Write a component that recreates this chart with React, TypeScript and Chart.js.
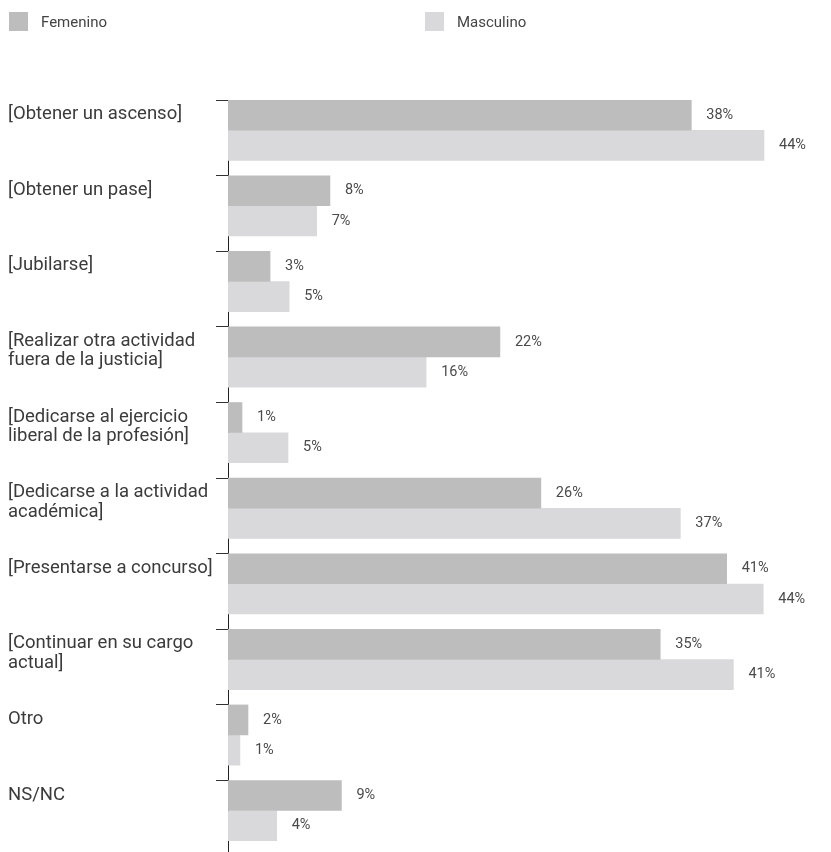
import React, { useEffect, useRef } from "react";
import { Chart, registerables } from "chart.js";

Chart.register(...registerables);

const CATEGORIES: (string | string[])[] = [
  "[Obtener un ascenso]",
  "[Obtener un pase]",
  "[Jubilarse]",
  ["[Realizar otra actividad", "fuera de la justicia]"],
  ["[Dedicarse al ejercicio", "liberal de la profesión]"],
  ["[Dedicarse a la actividad", "académica]"],
  "[Presentarse a concurso]",
  ["[Continuar en su cargo", "actual]"],
  "Otro",
  "NS/NC",
];

const SERIES = ["Femenino", "Masculino"];
const FEMENINO = [38.0, 8.36, 3.45, 22.3, 1.15, 25.66, 40.9, 35.45, 1.64, 9.3];
const MASCULINO = [43.96, 7.27, 5.02, 16.25, 4.92, 37.1, 43.9, 41.45, 0.98, 3.99];
const COLORS = ["#bdbdbe", "#d9d9db"];

const FONT = "Roboto, 'Noto Sans', sans-serif";

const valueLabels = {
  id: "valueLabels",
  afterDatasetsDraw(chart: any) {
    const ctx = chart.ctx;
    ctx.save();
    ctx.font = `14.5px ${FONT}`;
    ctx.fillStyle = "#4a4a4a";
    ctx.textAlign = "left";
    ctx.textBaseline = "middle";
    chart.data.datasets.forEach((ds: any, di: number) => {
      const meta = chart.getDatasetMeta(di);
      meta.data.forEach((bar: any, i: number) => {
        const v = ds.data[i].x;
        ctx.fillText(Math.round(v) + "%", bar.x + 15, bar.y);
      });
    });
    ctx.restore();
  },
};

export default function App() {
  const ref = useRef<HTMLCanvasElement | null>(null);

  useEffect(() => {
    document.body.style.marginBottom = "0";
    const canvas = ref.current;
    if (!canvas) return;
    const hiddenY = (min: number, max: number) => ({
      type: "linear",
      display: false,
      reverse: true,
      bounds: "data",
      offset: false,
      grid: { offset: false },
      min,
      max,
    });
    const chart = new Chart(canvas, {
      type: "bar",
      data: {
        datasets: [
          {
            label: SERIES[0],
            data: FEMENINO.map((v, i) => ({ x: v, y: i })),
            backgroundColor: COLORS[0],
            yAxisID: "yF",
            xAxisID: "x",
            barThickness: 30,
            grouped: false,
          },
          {
            label: SERIES[1],
            data: MASCULINO.map((v, i) => ({ x: v, y: i })),
            backgroundColor: COLORS[1],
            yAxisID: "yM",
            xAxisID: "x",
            barThickness: 30,
            grouped: false,
          },
        ],
      },
      options: {
        indexAxis: "y",
        animation: false,
        responsive: false,
        devicePixelRatio: 1,
        layout: { padding: { top: 92, left: 0, right: 0, bottom: 0 } },
        plugins: {
          legend: { display: false },
          tooltip: { enabled: false },
        },
        scales: {
          x: { type: "linear", min: 0, max: 48.8, display: false, bounds: "data", offset: false },
          yT: {
            type: "linear",
            position: "left",
            reverse: true,
            bounds: "data",
            offset: false,
            min: 0,
            max: 10,
            ticks: {
              stepSize: 1,
              includeBounds: false,
              autoSkip: false,
              crossAlign: "far",
              labelOffset: 24.2,
              color: "#3b3b3b",
              font: { family: FONT, size: 18.5, lineHeight: 1.05 },
              callback: (value: any) => {
                const l = CATEGORIES[Number(value)];
                if (l === undefined) return "";
                return Array.isArray(l) ? l : [l, ""];
              },
            },
            grid: {
              offset: false,
              drawOnChartArea: false,
              drawTicks: true,
              tickLength: 12,
              tickColor: "#333",
              tickWidth: 1,
            },
            border: { display: true, color: "#222", width: 1 },
            afterFit: (scale: any) => {
              scale.width = 220;
              scale.paddingTop = 0;
              scale.paddingBottom = 0;
            },
          },
          yF: hiddenY(-0.2, 9.8),
          yM: hiddenY(-0.6, 9.4),
        },
      } as any,
      plugins: [valueLabels],
    });
    return () => chart.destroy();
  }, []);

  return (
    <div style={{ position: "relative", width: 815, height: 844, overflow: "hidden" }}>
      <canvas ref={ref} width={815} height={848} style={{ display: "block" }} />
      {SERIES.map((s, i) => (
        <div
          key={s}
          style={{
            position: "absolute",
            top: 4,
            left: 1 + i * 416,
            height: 19,
            display: "flex",
            alignItems: "center",
            fontFamily: FONT,
            fontSize: 15,
            color: "#444",
          }}
        >
          <span style={{ width: 19, height: 19, background: COLORS[i], display: "inline-block" }} />
          <span style={{ marginLeft: 13 }}>{s}</span>
        </div>
      ))}
    </div>
  );
}
